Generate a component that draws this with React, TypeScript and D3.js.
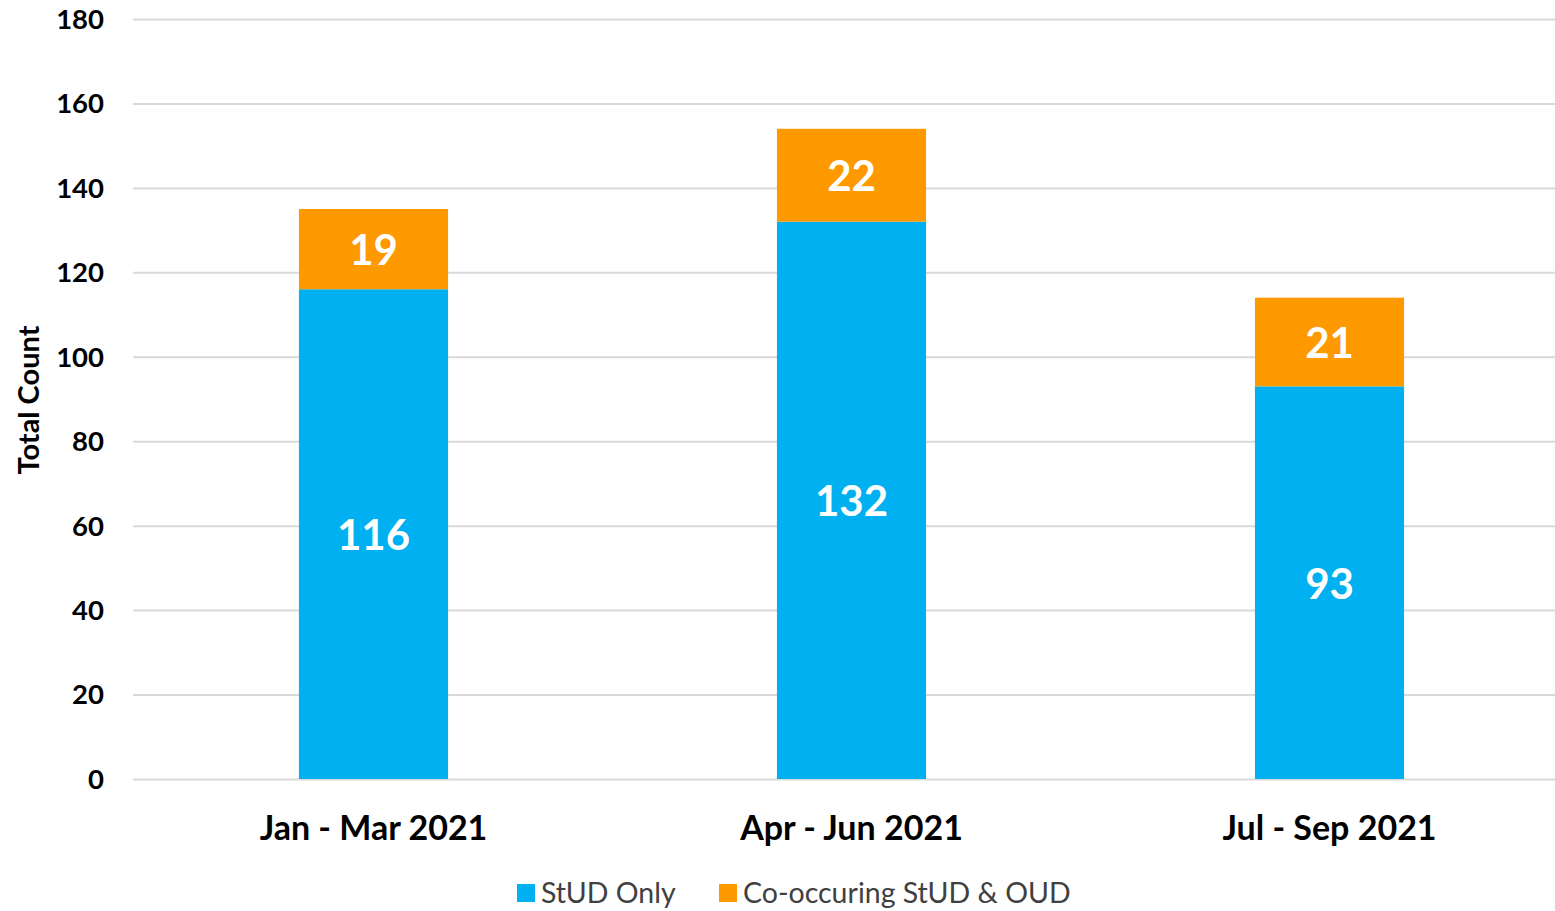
import * as d3 from 'd3';
import React, { useEffect, useRef } from 'react';

const quarters = ['Jan - Mar 2021', 'Apr - Jun 2021', 'Jul - Sep 2021'];
const studOnly = [116, 132, 93];
const coOccurring = [19, 22, 21];
const seriesNames = ['StUD Only', 'Co-occuring StUD & OUD'];
const seriesColors = ['#00B0F0', '#FF9900'];
const yTicks = [0, 20, 40, 60, 80, 100, 120, 140, 160, 180];

const App = () => {
  const ref = useRef<SVGSVGElement>(null);

  useEffect(() => {
    const width = 1555, height = 911;
    const svg = d3.select(ref.current);
    svg.selectAll('*').remove();

    const font = 'Lato, "Open Sans", sans-serif';

    const x = d3.scaleBand()
      .domain(quarters)
      .range([134.5, 1568.5])
      .paddingInner(0.688)
      .paddingOuter(0.344);

    const y = d3.scaleLinear()
      .domain([0, 180])
      .range([779, 19]);

    // gridlines
    svg.append('g')
      .selectAll('line')
      .data(yTicks)
      .join('line')
      .attr('x1', 133)
      .attr('x2', width)
      .attr('y1', d => y(d) + 0.5)
      .attr('y2', d => y(d) + 0.5)
      .attr('stroke', '#D9D9D9')
      .attr('stroke-width', 2);

    // y tick labels
    svg.append('g')
      .selectAll('text')
      .data(yTicks)
      .join('text')
      .attr('x', 104)
      .attr('y', d => y(d))
      .attr('dy', '0.36em')
      .attr('text-anchor', 'end')
      .attr('font-family', font)
      .attr('font-weight', 700)
      .attr('font-size', 27.5)
      .attr('fill', '#000')
      .text(d => d);

    // y axis title
    svg.append('text')
      .attr('transform', `translate(39,400) rotate(-90)`)
      .attr('text-anchor', 'middle')
      .attr('font-family', font)
      .attr('font-weight', 700)
      .attr('font-size', 29)
      .attr('fill', '#000')
      .text('Total Count');

    const stacked = quarters.map((q, i) => ({ q, a: studOnly[i], b: coOccurring[i] }));

    const g = svg.append('g');
    // StUD only segments
    g.selectAll('.seg-a')
      .data(stacked)
      .join('rect')
      .attr('x', d => x(d.q)!)
      .attr('width', x.bandwidth())
      .attr('y', d => y(d.a))
      .attr('height', d => y(0) - y(d.a))
      .attr('fill', seriesColors[0]);

    // co-occurring segments
    g.selectAll('.seg-b')
      .data(stacked)
      .join('rect')
      .attr('x', d => x(d.q)!)
      .attr('width', x.bandwidth())
      .attr('y', d => y(d.a + d.b))
      .attr('height', d => y(d.a) - y(d.a + d.b))
      .attr('fill', seriesColors[1]);

    // value labels
    const labels = stacked.flatMap(d => [
      { q: d.q, v: d.a, mid: d.a / 2 },
      { q: d.q, v: d.b, mid: d.a + d.b / 2 },
    ]);
    g.selectAll('.val')
      .data(labels)
      .join('text')
      .attr('x', d => x(d.q)! + x.bandwidth() / 2)
      .attr('y', d => y(d.mid))
      .attr('dy', '0.38em')
      .attr('text-anchor', 'middle')
      .attr('font-family', font)
      .attr('font-weight', 700)
      .attr('font-size', 42)
      .attr('fill', '#fff')
      .text(d => d.v);

    // category labels
    svg.append('g')
      .selectAll('text')
      .data(quarters)
      .join('text')
      .attr('x', d => x(d)! + x.bandwidth() / 2)
      .attr('y', 840)
      .attr('text-anchor', 'middle')
      .attr('font-family', font)
      .attr('font-weight', 700)
      .attr('font-size', 34)
      .attr('fill', '#000')
      .text(d => d);

    // legend
    const legendX = [517, 719];
    const leg = svg.append('g')
      .selectAll('g')
      .data(seriesNames)
      .join('g')
      .attr('transform', (d, i) => `translate(${legendX[i]},884)`);
    leg.append('rect')
      .attr('width', 18)
      .attr('height', 18)
      .attr('fill', (d, i) => seriesColors[i]);
    leg.append('text')
      .attr('x', 24)
      .attr('y', 9)
      .attr('dy', '0.36em')
      .attr('font-family', font)
      .attr('font-size', 28.5)
      .attr('fill', '#404040')
      .text(d => d);
  }, []);

  return (
    <svg
      ref={ref}
      width={1555}
      height={911}
      style={{ position: 'absolute', left: 0, top: 0, background: '#fff' }}
    />
  );
};

export default App;
